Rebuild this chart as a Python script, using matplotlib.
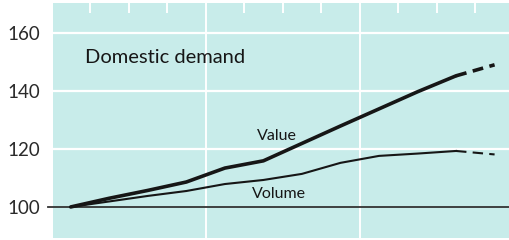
import numpy as np
import matplotlib
matplotlib.use('Agg')
import matplotlib.pyplot as plt

# Domestic demand index, quarterly (first quarter = 100)
value = [100, 103.0, 105.7, 108.6, 113.4, 115.9, 121.9, 127.9, 133.8, 139.7, 145.2, 149.0]
volume = [100, 101.9, 103.8, 105.5, 107.9, 109.3, 111.4, 115.2, 117.6, 118.4, 119.3, 118.1]
n_forecast = 1  # last point(s) drawn dashed

yticks = [100, 120, 140, 160]
title = 'Domestic demand'

bg = '#c8ecea'
ink = '#161616'

fig = plt.figure(figsize=(5.1, 2.4), dpi=100)
ax = fig.add_axes([53 / 510, 2 / 240, 457 / 510, 235 / 240])
ax.set_facecolor(bg)
for s in ax.spines.values():
    s.set_visible(False)

x = np.arange(len(value)) + 0.5
ax.set_xlim(0.04, 11.9)
ax.set_ylim(89.3, 170.3)

# grid: white horizontals, year lines, quarter ticks at the top
for yv in yticks[1:]:
    ax.axhline(yv, color='white', lw=1.6, zorder=1)
for xv in [4, 8]:
    ax.axvline(xv, color='white', lw=1.4, zorder=1)
ax.set_xticks([1, 2, 3, 5, 6, 7, 9, 10, 11])
ax.tick_params(axis='x', top=True, bottom=False, labelbottom=False,
               direction='in', length=7, width=1.4, color='white')

ax.axhline(100, xmin=-0.012, xmax=1, color='#333333', lw=1.3, clip_on=False, zorder=2)

ax.set_yticks(yticks)
ax.set_yticklabels([str(t) for t in yticks], fontsize=13.5, color='#2a2a2a', family='Lato')
ax.tick_params(axis='y', length=0, pad=9)

k = len(value) - n_forecast
ax.plot(x[:k], value[:k], color=ink, lw=2.6, solid_capstyle='round', zorder=3)
ax.plot(x[k - 1:], value[k - 1:], color=ink, lw=2.6, ls=(0, (3, 1.8)), zorder=3)
ax.plot(x[:k], volume[:k], color=ink, lw=1.5, zorder=3)
ax.plot(x[k - 1:], volume[k - 1:], color=ink, lw=1.5, ls=(0, (5, 3)), zorder=3)

ax.text(0.88, 151.4, title, fontsize=14.5, color=ink, family='Lato', va='center', ha='left')
ax.text(5.85, 124.5, 'Value', fontsize=11.5, color=ink, family='Lato', ha='center', va='center')
ax.text(5.9, 104.3, 'Volume', fontsize=11.5, color=ink, family='Lato', ha='center', va='center')

fig.savefig('out.png', dpi=100, facecolor='white')
